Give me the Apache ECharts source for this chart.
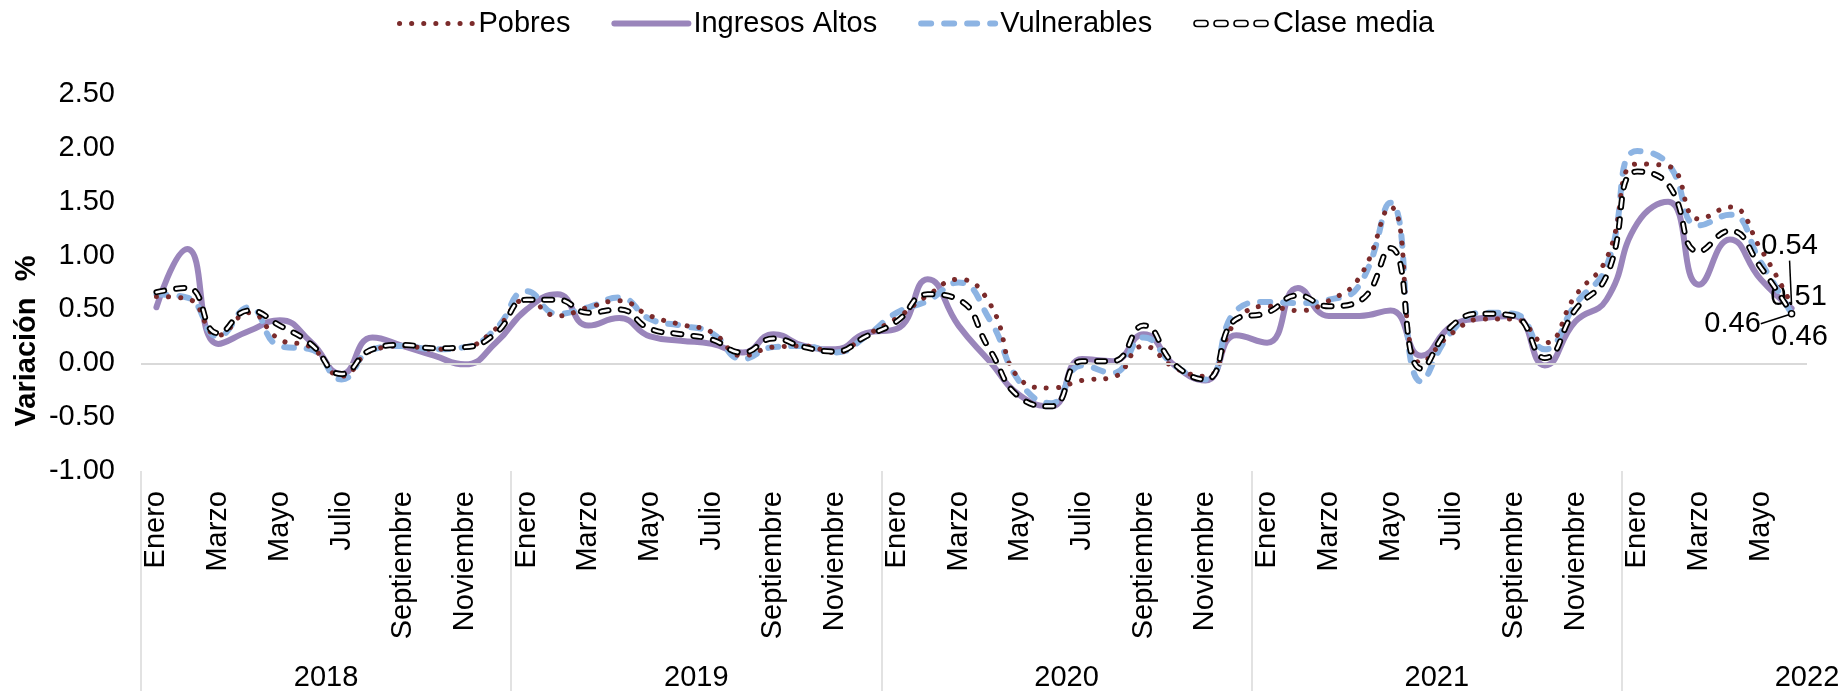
<!DOCTYPE html>
<html>
<head>
<meta charset="utf-8">
<script src="https://cdn.jsdelivr.net/npm/echarts@6/dist/echarts.min.js"></script>
<style>
  html, body { margin: 0; padding: 0; background: #ffffff; }
  #chart { width: 1843px; height: 692px; }
</style>
</head>
<body>
<div id="chart"></div>
<script>
// Monthly variation (%) by income group, Jan 2018 - Jun 2022
const years = ['2018', '2019', '2020', '2021', '2022'];
const monthsPerYear = [12, 12, 12, 12, 6];
const monthNames = ['Enero', 'Febrero', 'Marzo', 'Abril', 'Mayo', 'Junio',
  'Julio', 'Agosto', 'Septiembre', 'Octubre', 'Noviembre', 'Diciembre'];

const pobres = [
  0.62, 0.60, 0.26, 0.47, 0.22, 0.15, -0.12, 0.12, 0.16, 0.13, 0.15, 0.32,
  0.59, 0.44, 0.52, 0.58, 0.44, 0.36, 0.29, 0.07, 0.15, 0.16, 0.10, 0.26,
  0.42, 0.63, 0.78, 0.56, -0.15, -0.23, -0.16, -0.13, 0.16, -0.04, -0.12, 0.39,
  0.53, 0.49, 0.58, 0.80, 1.45, 0.00, 0.28, 0.41, 0.41, 0.19, 0.63, 0.97,
  1.85, 1.83, 1.34, 1.45, 1.06, 0.54
];
const ingresosAltos = [
  0.52, 1.06, 0.18, 0.30, 0.40, 0.20, -0.10, 0.24, 0.16, 0.07, -0.01, 0.19,
  0.50, 0.64, 0.35, 0.42, 0.25, 0.21, 0.18, 0.10, 0.27, 0.16, 0.13, 0.28,
  0.32, 0.78, 0.35, 0.02, -0.30, -0.40, 0.04, 0.02, 0.27, -0.02, -0.16, 0.26,
  0.19, 0.70, 0.44, 0.44, 0.49, 0.07, 0.35, 0.42, 0.44, -0.02, 0.39, 0.59,
  1.30, 1.50, 0.73, 1.15, 0.78, 0.51
];
const vulnerables = [
  0.64, 0.61, 0.25, 0.52, 0.16, 0.13, -0.15, 0.13, 0.16, 0.13, 0.15, 0.32,
  0.67, 0.46, 0.52, 0.61, 0.41, 0.35, 0.28, 0.04, 0.15, 0.16, 0.10, 0.25,
  0.47, 0.58, 0.75, 0.41, -0.18, -0.37, -0.02, -0.09, 0.24, -0.02, -0.15, 0.49,
  0.57, 0.56, 0.59, 0.73, 1.49, -0.17, 0.30, 0.47, 0.46, 0.13, 0.55, 0.90,
  1.97, 1.85, 1.28, 1.38, 0.94, 0.46
];
const claseMedia = [
  0.66, 0.70, 0.28, 0.49, 0.35, 0.18, -0.10, 0.13, 0.17, 0.14, 0.15, 0.28,
  0.59, 0.59, 0.47, 0.50, 0.32, 0.27, 0.22, 0.10, 0.23, 0.15, 0.11, 0.25,
  0.39, 0.64, 0.59, 0.13, -0.32, -0.40, 0.02, 0.02, 0.35, -0.01, -0.15, 0.41,
  0.47, 0.63, 0.53, 0.58, 1.07, -0.05, 0.35, 0.46, 0.44, 0.05, 0.50, 0.81,
  1.78, 1.66, 1.04, 1.23, 0.89, 0.46
];

const yMin = -1.0, yMax = 2.5, yStep = 0.5;

// "Enero 2018", "Febrero 2018", ... — unique keys, label shows the month only
const categories = [];
years.forEach((y, k) => {
  for (let m = 0; m < monthsPerYear[k]; m++) categories.push(monthNames[m] + ' ' + y);
});
const total = categories.length;
// year boundaries and year label anchors, in month units
const yearStarts = [], yearCentres = [];
let acc = 0;
years.forEach((y, k) => {
  yearStarts.push(acc);
  yearCentres.push(k < years.length - 1 ? acc + monthsPerYear[k] / 2 : total);
  acc += monthsPerYear[k];
});

const FONT = '"Liberation Sans", Arial, sans-serif';
const FS = 29;

// last point of a series carries its value label
function withEndLabel(values, cfg) {
  return values.map((v, i) => {
    if (i !== values.length - 1) return v;
    return {
      value: v,
      symbol: 'circle',
      symbolSize: cfg.symbolSize || 1,
      itemStyle: cfg.itemStyle || { color: 'rgba(0,0,0,0)' },
      label: {
        show: true,
        position: 'inside',
        formatter: (p) => p.value.toFixed(2),
        fontFamily: FONT, fontSize: FS, color: '#000'
      },
      labelLine: { show: !!cfg.leader }
    };
  });
}

const colPobres = '#7b2b2b';
const colAltos = '#9a85bb';
const colVuln = '#8db4e3';

const styleP = { color: colPobres, width: 5, type: [0.1, 12], cap: 'round' };
const styleA = { color: colAltos, width: 6, type: 'solid', cap: 'round', join: 'round' };
const styleV = { color: colVuln, width: 6, type: [10, 13], cap: 'round', join: 'round' };
const styleCOuter = { color: '#000000', width: 6, type: [8, 12], cap: 'round', join: 'round' };
const styleCInner = { color: '#ffffff', width: 2.5, type: [8, 12], cap: 'round', join: 'round' };

// dashes for the legend icon of the outlined line
function dashIconPath() {
  let d = '';
  const len = 14, gap = 6, h = 6, r = 3;
  for (let k = 0; k < 4; k++) {
    const x0 = k * (len + gap), x1 = x0 + len;
    d += 'M' + (x0 + r) + ',0 H' + (x1 - r) + ' A' + r + ',' + r + ' 0 0 1 ' + (x1 - r) + ',' + h +
         ' H' + (x0 + r) + ' A' + r + ',' + r + ' 0 0 1 ' + (x0 + r) + ',0 Z ';
  }
  return 'path://' + d;
}

const hiddenMarker = { opacity: 0 };

const chart = echarts.init(document.getElementById('chart'), null, { renderer: 'canvas' });

const option = {
  animation: false,
  backgroundColor: '#ffffff',
  textStyle: { fontFamily: FONT },
  legend: {
    left: 397, top: 9, padding: 0,
    itemWidth: 74, itemHeight: 14, itemGap: 41,
    selectedMode: false,
    textStyle: { fontFamily: FONT, fontSize: FS, color: '#000' },
    data: [
      { name: 'Pobres', lineStyle: styleP, itemStyle: hiddenMarker },
      { name: 'Ingresos Altos', lineStyle: styleA, itemStyle: hiddenMarker },
      { name: 'Vulnerables', lineStyle: styleV, itemStyle: hiddenMarker },
      { name: 'Clase media', icon: dashIconPath(),
        itemStyle: { color: '#ffffff', borderColor: '#000000', borderWidth: 1.6 } }
    ]
  },
  grid: { left: 141, right: 36, top: 94, bottom: 220, containLabel: false },
  xAxis: [
    {
      type: 'category',
      data: categories,
      boundaryGap: true,
      axisLine: { show: false },
      axisTick: { show: false },
      axisLabel: {
        interval: 1, rotate: 90, margin: 20,
        fontFamily: FONT, fontSize: FS, color: '#000',
        formatter: (v) => v.split(' ')[0]
      },
      splitLine: { show: false }
    },
    {
      type: 'value',
      min: 0, max: total,
      position: 'bottom',
      axisLine: { show: false },
      splitLine: { show: false },
      axisTick: {
        show: true, length: 220, inside: false,
        customValues: yearStarts,
        lineStyle: { color: '#d9d9d9', width: 1.5 }
      },
      axisLabel: {
        customValues: yearCentres,
        margin: 192, fontFamily: FONT, fontSize: FS, color: '#000',
        formatter: (v) => {
          const k = yearCentres.indexOf(v);
          return k >= 0 ? years[k] : '';
        }
      }
    }
  ],
  yAxis: {
    type: 'value',
    min: yMin, max: yMax, interval: yStep,
    axisLine: { show: false },
    axisTick: { show: false },
    splitLine: { show: false },
    axisLabel: {
      margin: 26, fontFamily: FONT, fontSize: FS, color: '#000',
      formatter: (v) => v.toFixed(2)
    }
  },
  graphic: [{
    type: 'text',
    x: 27, y: 341,
    rotation: Math.PI / 2,
    style: {
      text: 'Variación  %',
      font: 'bold 29px "Liberation Sans", Arial, sans-serif',
      fill: '#000',
      align: 'center', verticalAlign: 'middle'
    }
  }],
  series: [
    {
      name: 'Pobres', type: 'line', smooth: 0.5,
      symbol: 'none', showSymbol: true, showAllSymbol: true,
      data: withEndLabel(pobres, { leader: true }),
      lineStyle: styleP,
      itemStyle: { color: colPobres },
      labelLayout: { dx: -2, dy: -59 },
      labelLine: { lineStyle: { color: '#000', width: 1.5 } },
      markLine: {
        silent: true, symbol: 'none', label: { show: false },
        lineStyle: { color: '#d9d9d9', width: 2, type: 'solid' },
        data: [{ yAxis: 0 }]
      },
      z: 4
    },
    {
      name: 'Ingresos Altos', type: 'line', smooth: 0.5,
      symbol: 'none', showSymbol: true, showAllSymbol: true,
      data: withEndLabel(ingresosAltos, {}),
      lineStyle: styleA,
      itemStyle: { color: colAltos },
      labelLayout: { dx: 7, dy: -11 },
      z: 2
    },
    {
      name: 'Vulnerables', type: 'line', smooth: 0.5,
      symbol: 'none', showSymbol: true, showAllSymbol: true,
      data: withEndLabel(vulnerables, {}),
      lineStyle: styleV,
      itemStyle: { color: colVuln },
      labelLayout: { dx: 8, dy: 23 },
      z: 3
    },
    {
      name: 'Clase media', type: 'line', smooth: 0.5,
      symbol: 'none', showSymbol: true, showAllSymbol: true,
      data: withEndLabel(claseMedia, {
        leader: true, symbolSize: 6,
        itemStyle: { color: '#ffffff', borderColor: '#000', borderWidth: 1.5 }
      }),
      lineStyle: styleCOuter,
      itemStyle: { color: '#000000' },
      labelLayout: { dx: -59, dy: 10 },
      labelLine: { lineStyle: { color: '#000', width: 1.5 } },
      z: 5
    },
    {
      // white core of the outlined dashes
      name: 'Clase media', type: 'line', smooth: 0.5,
      symbol: 'none', showSymbol: false,
      data: claseMedia,
      lineStyle: styleCInner,
      itemStyle: { color: '#ffffff' },
      z: 6
    }
  ]
};

chart.setOption(option);
</script>
</body>
</html>
